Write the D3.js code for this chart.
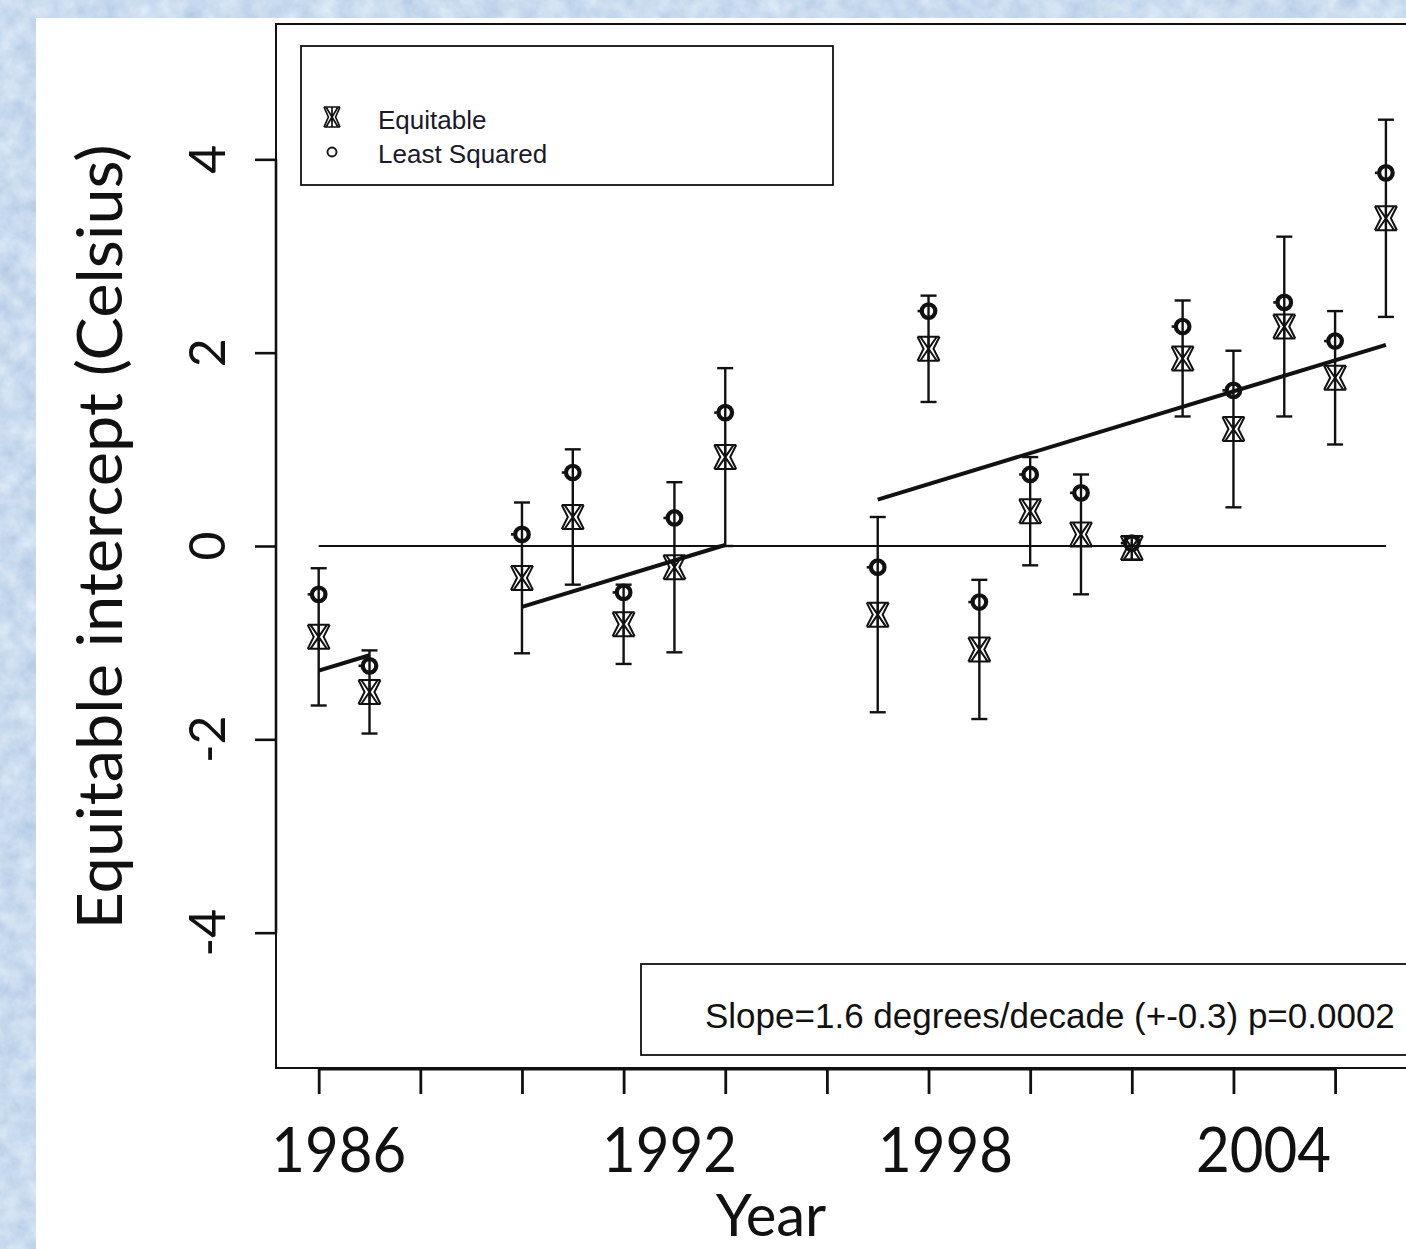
<!DOCTYPE html>
<html>
<head>
<meta charset="utf-8">
<script src="https://cdn.jsdelivr.net/npm/d3@7"></script>
<style>
  html, body { margin: 0; padding: 0; background: #c9dbef; overflow: hidden; }
  svg { display: block; }
</style>
</head>
<body>
<svg id="chart" width="1406" height="1249"></svg>
<script>
// Yearly intercepts: equitable estimate with its uncertainty, and least-squares estimate
const years        = [1986, 1987, 1990, 1991, 1992, 1993, 1994, 1997, 1998, 1999, 2000, 2001, 2002, 2003, 2004, 2005, 2006, 2007];
const equitable    = [-0.94, -1.51, -0.33, 0.30, -0.81, -0.22, 0.92, -0.71, 2.04, -1.07, 0.36, 0.12, -0.02, 1.94, 1.21, 2.27, 1.74, 3.39];
const leastSquared = [-0.50, -1.24, 0.12, 0.76, -0.48, 0.29, 1.38, -0.22, 2.43, -0.58, 0.74, 0.55, 0.03, 2.27, 1.61, 2.52, 2.12, 3.86];
const equitableErr = [0.71, 0.43, 0.78, 0.70, 0.41, 0.88, 0.92, 1.01, 0.55, 0.72, 0.56, 0.62, 0.12, 0.60, 0.81, 0.93, 0.69, 1.02];

// Piecewise trend: common slope, one intercept per segment
const slopePerDecade  = 1.6;
const trendStartYear  = [1986, 1990, 1997];
const trendEndYear    = [1987, 1994, 2007];
const trendStartValue = [-1.29, -0.63, 0.48];

// Axis ticks and labels
const yTicks       = [-4, -2, 0, 2, 4];
const xTicks       = [1986, 1988, 1990, 1992, 1994, 1996, 1998, 2000, 2002, 2004, 2006];
const xLabelYears  = [1986, 1992, 1998, 2004];
const xLabelText   = ["1986", "1992", "1998", "2004"];
const xLabelNudge  = [20, 46, 17, 30];

const legendLabels = ["Equitable", "Least Squared"];
const slopeNote    = "Slope=1.6 degrees/decade (+-0.3) p=0.0002";

const svg = d3.select("#chart");
const defs = svg.append("defs");

// mottled light-blue backdrop
const f = defs.append("filter").attr("id", "paper")
  .attr("x", 0).attr("y", 0).attr("width", 1).attr("height", 1)
  .attr("color-interpolation-filters", "sRGB");
f.append("feTurbulence").attr("type", "fractalNoise").attr("baseFrequency", 0.05).attr("numOctaves", 4).attr("seed", 7).attr("result", "n");
f.append("feColorMatrix").attr("in", "n").attr("type", "matrix")
  .attr("values", "0.22 0 0 0 0.68  0.17 0 0 0 0.775  0.10 0 0 0 0.885  0 0 0 0 1");
svg.append("rect").attr("width", 1406).attr("height", 1249).attr("filter", "url(#paper)");

// white slide panel
svg.append("rect").attr("x", 36).attr("y", 18).attr("width", 1370).attr("height", 1231).attr("fill", "#ffffff");

const x = d3.scaleLinear().domain([1985.16, 2007.84]).range([276, 1428.6]);
const y = d3.scaleLinear().domain([-5.4, 5.4]).range([1068, 24]);

const ink = "#111";
const calibriLike = "Lato, 'Open Sans', sans-serif";
const arialLike = "'Liberation Sans', Arial, sans-serif";

// plot frame
svg.append("rect")
  .attr("x", x.range()[0]).attr("y", y.range()[1])
  .attr("width", x.range()[1] - x.range()[0]).attr("height", y.range()[0] - y.range()[1])
  .attr("fill", "none").attr("stroke", ink).attr("stroke-width", 2);

// y axis ticks
const gy = svg.append("g").attr("transform", `translate(${x.range()[0]},0)`)
  .call(d3.axisLeft(y).tickValues(yTicks).tickSize(21).tickSizeOuter(0).tickFormat(""));
gy.select(".domain").remove();
gy.selectAll(".tick line").attr("stroke", ink).attr("stroke-width", 2.6);
svg.append("line")
  .attr("x1", x.range()[0]).attr("x2", x.range()[0])
  .attr("y1", y(yTicks[0])).attr("y2", y(yTicks[yTicks.length - 1]))
  .attr("stroke", ink).attr("stroke-width", 2.6);

// y tick labels (rotated)
svg.append("g").selectAll("text").data(yTicks).join("text")
  .attr("transform", d => `translate(225,${y(d)}) rotate(-90)`)
  .attr("text-anchor", "middle")
  .attr("font-family", calibriLike).attr("font-size", 50).attr("fill", ink)
  .text(d => d);

// x axis
const gx = svg.append("g").attr("transform", `translate(0,${y.range()[0]})`)
  .call(d3.axisBottom(x).tickValues(xTicks).tickSize(26).tickSizeOuter(0).tickFormat(""));
gx.select(".domain").remove();
gx.selectAll(".tick line").attr("stroke", ink).attr("stroke-width", 2.8);
svg.append("line")
  .attr("x1", x(xTicks[0])).attr("x2", x(xTicks[xTicks.length - 1]))
  .attr("y1", y.range()[0] + 1).attr("y2", y.range()[0] + 1)
  .attr("stroke", ink).attr("stroke-width", 3);

// x tick labels
svg.append("g").selectAll("text").data(xLabelYears).join("text")
  .attr("x", (d, i) => x(d) + xLabelNudge[i])
  .attr("y", 1172)
  .attr("text-anchor", "middle")
  .attr("font-family", calibriLike).attr("font-size", 61).attr("fill", ink)
  .attr("textLength", 135).attr("lengthAdjust", "spacingAndGlyphs")
  .text((d, i) => xLabelText[i]);

// axis titles
svg.append("text")
  .attr("transform", "translate(122,537) rotate(-90)")
  .attr("text-anchor", "middle")
  .attr("font-family", calibriLike).attr("font-size", 61).attr("fill", ink)
  .attr("textLength", 785).attr("lengthAdjust", "spacingAndGlyphs")
  .text("Equitable intercept (Celsius)");
svg.append("text")
  .attr("x", 771).attr("y", 1236)
  .attr("text-anchor", "middle")
  .attr("font-family", calibriLike).attr("font-size", 58).attr("fill", ink)
  .text("Year");

// zero reference line
svg.append("line")
  .attr("x1", x(years[0])).attr("x2", x(years[years.length - 1]))
  .attr("y1", y(0)).attr("y2", y(0))
  .attr("stroke", ink).attr("stroke-width", 1.8);

// trend segments
const perYear = slopePerDecade / 10;
svg.append("g").selectAll("line").data(trendStartYear).join("line")
  .attr("x1", d => x(d))
  .attr("y1", (d, i) => y(trendStartValue[i]))
  .attr("x2", (d, i) => x(trendEndYear[i]))
  .attr("y2", (d, i) => y(trendStartValue[i] + perYear * (trendEndYear[i] - d)))
  .attr("stroke", ink).attr("stroke-width", 4);

// error bars around the equitable estimate
const rows = years.map((yr, i) => ({ yr, eq: equitable[i], ls: leastSquared[i], err: equitableErr[i] }));
const capHalf = 8;
const eb = svg.append("g").attr("stroke", ink).attr("stroke-width", 2.4);
eb.selectAll("line.v").data(rows).join("line").attr("class", "v")
  .attr("x1", d => x(d.yr)).attr("x2", d => x(d.yr))
  .attr("y1", d => y(d.eq - d.err)).attr("y2", d => y(d.eq + d.err));
eb.selectAll("line.top").data(rows).join("line").attr("class", "top")
  .attr("x1", d => x(d.yr) - capHalf).attr("x2", d => x(d.yr) + capHalf)
  .attr("y1", d => y(d.eq + d.err)).attr("y2", d => y(d.eq + d.err));
eb.selectAll("line.bot").data(rows).join("line").attr("class", "bot")
  .attr("x1", d => x(d.yr) - capHalf).attr("x2", d => x(d.yr) + capHalf)
  .attr("y1", d => y(d.eq - d.err)).attr("y2", d => y(d.eq - d.err));

// marker shapes
function equitableGlyph(w, h) {
  return `M${-w},${-h}H${w}M${-w},${h}H${w}` +
         `M${-w},${-h}L${-w * 0.45},0L${-w},${h}M${w},${-h}L${w * 0.45},0L${w},${h}` +
         `M${-w * 0.75},${-h}L${w * 0.75},${h}M${w * 0.75},${-h}L${-w * 0.75},${h}` +
         `M0,${-h}V${h}`;
}
function lsGlyph(g, r, sw) {
  g.append("circle").attr("r", r).attr("fill", "none").attr("stroke", ink).attr("stroke-width", sw);
}

svg.append("g").selectAll("path").data(rows).join("path")
  .attr("transform", d => `translate(${x(d.yr)},${y(d.eq)})`)
  .attr("d", equitableGlyph(11, 12))
  .attr("fill", "none")
  .attr("stroke", ink).attr("stroke-width", 2);

svg.append("g").selectAll("g").data(rows).join("g")
  .attr("transform", d => `translate(${x(d.yr)},${y(d.ls)})`)
  .each(function () {
    const g = d3.select(this);
    lsGlyph(g, 6.8, 4.2);
    g.append("path").attr("d", "M-11,0H-5").attr("stroke", ink).attr("stroke-width", 2.6);
  });

// legend
const lg = svg.append("g");
lg.append("rect").attr("x", 301).attr("y", 46).attr("width", 532).attr("height", 139)
  .attr("fill", "#fff").attr("stroke", ink).attr("stroke-width", 1.8);
lg.append("path").attr("transform", "translate(332,117)").attr("d", equitableGlyph(8, 10))
  .attr("fill", "none").attr("stroke", ink).attr("stroke-width", 1.7);
lg.append("g").attr("transform", "translate(332,152)").call(g => lsGlyph(g, 4.5, 1.9));
lg.selectAll("text").data(legendLabels).join("text")
  .attr("x", 378).attr("y", (d, i) => 129 + i * 34)
  .attr("font-family", arialLike).attr("font-size", 26).attr("fill", "#1a1a2a")
  .text(d => d);

// slope annotation box
svg.append("rect").attr("x", 641).attr("y", 964).attr("width", 820).attr("height", 91)
  .attr("fill", "#fff").attr("stroke", ink).attr("stroke-width", 1.8);
svg.append("text").attr("x", 705).attr("y", 1028)
  .attr("font-family", arialLike).attr("font-size", 35).attr("fill", ink)
  .text(slopeNote);
</script>
</body>
</html>
